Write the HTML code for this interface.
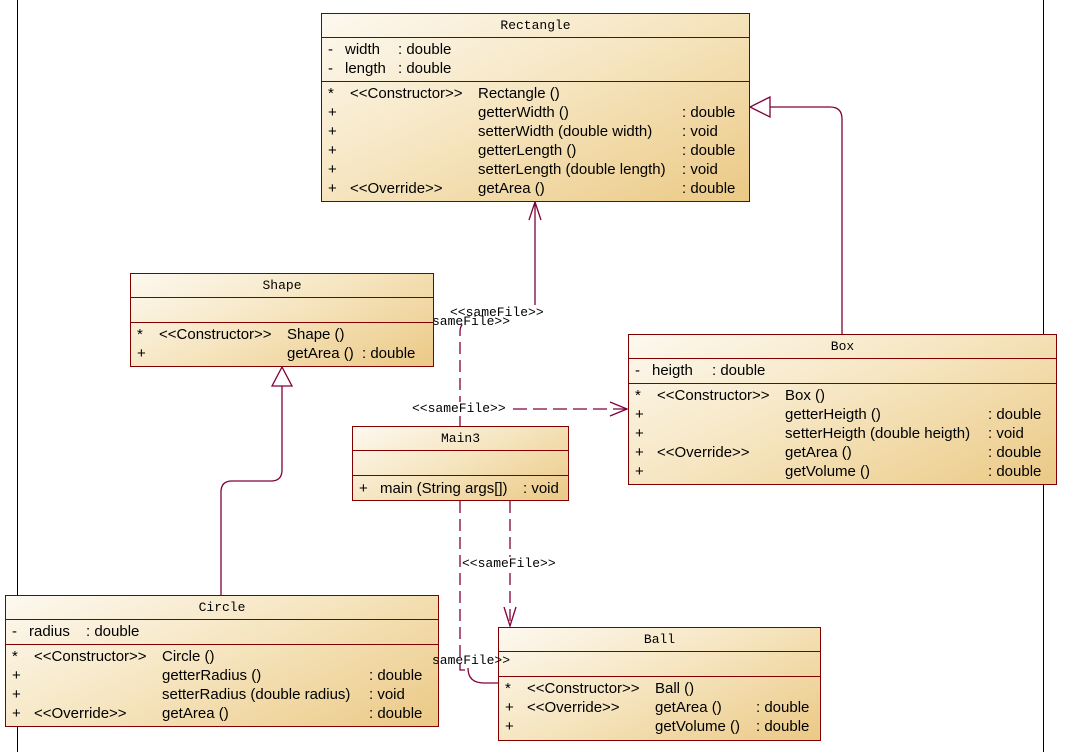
<!DOCTYPE html>
<html><head><meta charset="utf-8"><style>
body{margin:0;width:1085px;height:752px;background:#fff;position:relative;overflow:hidden;font-family:"Liberation Sans",sans-serif;font-size:15px;color:#000}
.b{position:absolute;border:1px solid #800000;background:linear-gradient(155deg,#fdf9f0 0%,#f6e6c2 45%,#ebc985 100%);box-sizing:border-box}
.t{position:absolute;left:0;right:0;text-align:center;font-family:"Liberation Mono",monospace;font-size:13px}
.h{position:absolute;left:0;right:0;border-top:1px solid #800000}
.s{position:absolute;white-space:nowrap;line-height:19px}
.l{position:absolute;font-family:"Liberation Mono",monospace;font-size:13px;white-space:nowrap;background:#fff;line-height:14px}
</style></head><body>
<div style="position:absolute;left:17px;top:0;width:1px;height:752px;background:#000"></div>
<div style="position:absolute;left:1043px;top:0;width:1px;height:752px;background:#000"></div>

<svg width="1085" height="752" style="position:absolute;left:0;top:0" fill="none" stroke="#80003a" stroke-width="1.3">
<path d="M842,334 V119 Q842,107 830,107 H770"/>
<path d="M770,97 L750,107 L770,117 Z" fill="#fff"/>
<path d="M221,595 V492 Q221,481 232,481 H271 Q282,481 282,470 V386"/>
<path d="M272,386 L282,367 L292,386 Z" fill="#fff"/>
<path d="M535,305 V202"/>
<path d="M529,220 L535,202 L541,220"/>
<path d="M460,426 V332 Q460,324 466,322" stroke-dasharray="12,6"/>
<path d="M513,409 H627" stroke-dasharray="14,6"/>
<path d="M610,402 L627,409 L610,416"/>
<path d="M510,501 V626" stroke-dasharray="12,6"/>
<path d="M504,607 L510,626 L516,607"/>
<path d="M460,501 V670 H465" stroke-dasharray="12,6"/>
<path d="M468,668 Q468,683 484,683 H498"/>
</svg>

<div class="l" style="left:432px;top:315px;background:none">sameFile&gt;&gt;</div>
<div class="l" style="left:450px;top:306px;background:none">&lt;&lt;sameFile&gt;&gt;</div>
<div class="l" style="left:412px;top:402px">&lt;&lt;sameFile&gt;&gt;</div>
<div class="l" style="left:462px;top:557px">&lt;&lt;sameFile&gt;&gt;</div>

<!-- Rectangle -->
<div class="b" style="left:321px;top:13px;width:429px;height:189px">
<div class="t" style="top:4px">Rectangle</div>
<div class="h" style="top:23px"></div><div class="h" style="top:67px"></div>
<span class="s" style="left:6px;top:26px">-</span><span class="s" style="left:23px;top:26px">width</span><span class="s" style="left:76px;top:26px">: double</span>
<span class="s" style="left:6px;top:45px">-</span><span class="s" style="left:23px;top:45px">length</span><span class="s" style="left:76px;top:45px">: double</span>
<span class="s" style="left:6px;top:70px">*</span><span class="s" style="left:28px;top:70px">&lt;&lt;Constructor&gt;&gt;</span><span class="s" style="left:156px;top:70px">Rectangle ()</span>
<span class="s" style="left:6px;top:89px">+</span><span class="s" style="left:156px;top:89px">getterWidth ()</span><span class="s" style="left:360px;top:89px">: double</span>
<span class="s" style="left:6px;top:108px">+</span><span class="s" style="left:156px;top:108px">setterWidth (double width)</span><span class="s" style="left:360px;top:108px">: void</span>
<span class="s" style="left:6px;top:127px">+</span><span class="s" style="left:156px;top:127px">getterLength ()</span><span class="s" style="left:360px;top:127px">: double</span>
<span class="s" style="left:6px;top:146px">+</span><span class="s" style="left:156px;top:146px">setterLength (double length)</span><span class="s" style="left:360px;top:146px">: void</span>
<span class="s" style="left:6px;top:165px">+</span><span class="s" style="left:28px;top:165px">&lt;&lt;Override&gt;&gt;</span><span class="s" style="left:156px;top:165px">getArea ()</span><span class="s" style="left:360px;top:165px">: double</span>
</div>

<!-- Shape -->
<div class="b" style="left:130px;top:273px;width:304px;height:94px">
<div class="t" style="top:4px">Shape</div>
<div class="h" style="top:23px"></div><div class="h" style="top:48px"></div>
<span class="s" style="left:6px;top:51px">*</span><span class="s" style="left:28px;top:51px">&lt;&lt;Constructor&gt;&gt;</span><span class="s" style="left:156px;top:51px">Shape ()</span>
<span class="s" style="left:6px;top:70px">+</span><span class="s" style="left:156px;top:70px">getArea ()</span><span class="s" style="left:231px;top:70px">: double</span>
</div>

<!-- Box -->
<div class="b" style="left:628px;top:334px;width:429px;height:151px">
<div class="t" style="top:4px">Box</div>
<div class="h" style="top:23px"></div><div class="h" style="top:48px"></div>
<span class="s" style="left:6px;top:26px">-</span><span class="s" style="left:23px;top:26px">heigth</span><span class="s" style="left:83px;top:26px">: double</span>
<span class="s" style="left:6px;top:51px">*</span><span class="s" style="left:28px;top:51px">&lt;&lt;Constructor&gt;&gt;</span><span class="s" style="left:156px;top:51px">Box ()</span>
<span class="s" style="left:6px;top:70px">+</span><span class="s" style="left:156px;top:70px">getterHeigth ()</span><span class="s" style="left:359px;top:70px">: double</span>
<span class="s" style="left:6px;top:89px">+</span><span class="s" style="left:156px;top:89px">setterHeigth (double heigth)</span><span class="s" style="left:359px;top:89px">: void</span>
<span class="s" style="left:6px;top:108px">+</span><span class="s" style="left:28px;top:108px">&lt;&lt;Override&gt;&gt;</span><span class="s" style="left:156px;top:108px">getArea ()</span><span class="s" style="left:359px;top:108px">: double</span>
<span class="s" style="left:6px;top:127px">+</span><span class="s" style="left:156px;top:127px">getVolume ()</span><span class="s" style="left:359px;top:127px">: double</span>
</div>

<!-- Main3 -->
<div class="b" style="left:352px;top:426px;width:217px;height:75px">
<div class="t" style="top:4px">Main3</div>
<div class="h" style="top:23px"></div><div class="h" style="top:48px"></div>
<span class="s" style="left:6px;top:52px">+</span><span class="s" style="left:27px;top:52px">main (String args[])</span><span class="s" style="left:170px;top:52px">: void</span>
</div>

<!-- Circle -->
<div class="b" style="left:5px;top:595px;width:434px;height:132px">
<div class="t" style="top:4px">Circle</div>
<div class="h" style="top:23px"></div><div class="h" style="top:48px"></div>
<span class="s" style="left:6px;top:26px">-</span><span class="s" style="left:23px;top:26px">radius</span><span class="s" style="left:80px;top:26px">: double</span>
<span class="s" style="left:6px;top:51px">*</span><span class="s" style="left:28px;top:51px">&lt;&lt;Constructor&gt;&gt;</span><span class="s" style="left:156px;top:51px">Circle ()</span>
<span class="s" style="left:6px;top:70px">+</span><span class="s" style="left:156px;top:70px">getterRadius ()</span><span class="s" style="left:363px;top:70px">: double</span>
<span class="s" style="left:6px;top:89px">+</span><span class="s" style="left:156px;top:89px">setterRadius (double radius)</span><span class="s" style="left:363px;top:89px">: void</span>
<span class="s" style="left:6px;top:108px">+</span><span class="s" style="left:28px;top:108px">&lt;&lt;Override&gt;&gt;</span><span class="s" style="left:156px;top:108px">getArea ()</span><span class="s" style="left:363px;top:108px">: double</span>
</div>

<!-- Ball -->
<div class="b" style="left:498px;top:627px;width:323px;height:114px">
<div class="t" style="top:4px">Ball</div>
<div class="h" style="top:23px"></div><div class="h" style="top:48px"></div>
<span class="s" style="left:6px;top:51px">*</span><span class="s" style="left:28px;top:51px">&lt;&lt;Constructor&gt;&gt;</span><span class="s" style="left:156px;top:51px">Ball ()</span>
<span class="s" style="left:6px;top:70px">+</span><span class="s" style="left:28px;top:70px">&lt;&lt;Override&gt;&gt;</span><span class="s" style="left:156px;top:70px">getArea ()</span><span class="s" style="left:257px;top:70px">: double</span>
<span class="s" style="left:6px;top:89px">+</span><span class="s" style="left:156px;top:89px">getVolume ()</span><span class="s" style="left:257px;top:89px">: double</span>
</div>

<div class="l" style="left:432px;top:654px;background:none">sameFile&gt;&gt;</div>
</body></html>
